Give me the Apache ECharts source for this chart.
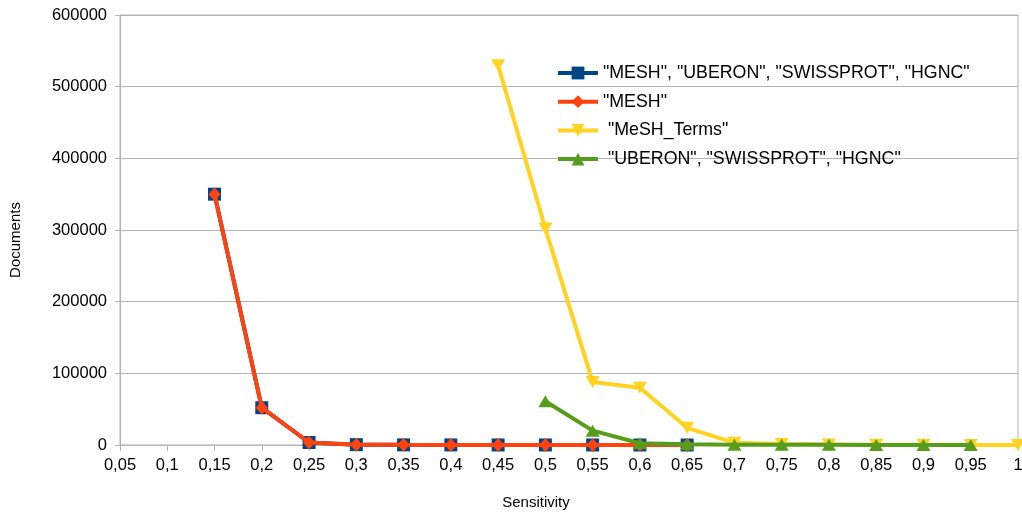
<!DOCTYPE html>
<html>
<head>
<meta charset="utf-8">
<script src="https://cdn.jsdelivr.net/npm/echarts@6/dist/echarts.min.js"></script>
<style>
html,body{margin:0;padding:0;background:#fff;}
#c{width:1022px;height:513px;}
</style>
</head>
<body>
<div id="c"></div>
<script>
const categories = ['0,05','0,1','0,15','0,2','0,25','0,3','0,35','0,4','0,45','0,5','0,55','0,6','0,65','0,7','0,75','0,8','0,85','0,9','0,95','1'];
const yTicks = [0,100000,200000,300000,400000,500000,600000];
const seriesNames = ['"MESH", "UBERON", "SWISSPROT", "HGNC"', '"MESH"', ' "MeSH_Terms"', ' "UBERON", "SWISSPROT", "HGNC"'];
const meshAll = [null,null,350000,52000,3500,500,200,100,50,30,20,10,5,null,null,null,null,null,null,null];
const meshOnly = [null,null,350000,52000,3500,500,200,100,50,30,20,10,5,null,null,null,null,null,null,null];
const meshTerms = [null,null,null,null,null,null,null,null,530000,302000,88000,80000,24000,3000,1500,800,400,200,100,50];
const uberon = [null,null,null,null,null,null,null,null,null,61000,20000,2500,1000,500,300,200,100,50,30,null];

const colors = ['#004586','#ff420e','#ffd320','#579d1c'];
const symbols = ['rect','diamond','triangle','triangle'];
const symbolRot = [0,0,180,0];
const symSizes = [[13,13],[12,14],[14,12],[14,12]];
const dataSets = [meshAll, meshOnly, meshTerms, uberon];
const FONT = 'Liberation Sans, Arial, sans-serif';

const chart = echarts.init(document.getElementById('c'), null, {renderer:'canvas'});
chart.setOption({
  animation:false,
  backgroundColor:'#fff',
  color: colors,
  grid:{left:120,right:4,top:15,bottom:68,outerBoundsMode:'none',containLabel:false,show:true,borderColor:'#b3b3b3',borderWidth:1,backgroundColor:'transparent'},
  legend:{
    orient:'vertical', left:556, top:64, padding:0, itemGap:10.7, itemWidth:40, itemHeight:16,
    lineStyle:{width:4},
    textStyle:{fontFamily:FONT,fontSize:17.8,color:'#000'},
    data: seriesNames
  },
  xAxis:{
    type:'category', data:categories, boundaryGap:false,
    axisLine:{lineStyle:{color:'#b3b3b3',width:1}},
    axisTick:{show:true,length:6,lineStyle:{color:'#b3b3b3'}},
    axisLabel:{fontFamily:FONT,fontSize:16.5,color:'#000',margin:12,interval:0},
    splitLine:{show:false}
  },
  yAxis:{
    type:'value', min:yTicks[0], max:yTicks[yTicks.length-1], interval:100000,
    axisLine:{show:true,lineStyle:{color:'#b3b3b3',width:1}},
    axisTick:{show:true,length:5,lineStyle:{color:'#b3b3b3'}},
    axisLabel:{fontFamily:FONT,fontSize:16.5,color:'#000',margin:13,formatter:v=>String(v)},
    splitLine:{show:true,lineStyle:{color:'#b3b3b3',width:1}}
  },
  graphic:[
    {type:'text',x:16,y:240,rotation:Math.PI/2,style:{text:'Documents',font:'15px '+FONT,fill:'#000',textAlign:'center',textVerticalAlign:'middle'}},
    {type:'text',x:536,y:503,style:{text:'Sensitivity',font:'15px '+FONT,fill:'#000',textAlign:'center',textVerticalAlign:'middle'}}
  ],
  series: dataSets.map((d,i)=>({
    name: seriesNames[i], type:'line', data:d,
    symbol: symbols[i], symbolSize: symSizes[i], symbolRotate: symbolRot[i],
    showAllSymbol:true, connectNulls:false,
    lineStyle:{width:4,color:colors[i]},
    itemStyle:{color:colors[i]},
    z: 2+i
  }))
});
</script>
</body>
</html>
